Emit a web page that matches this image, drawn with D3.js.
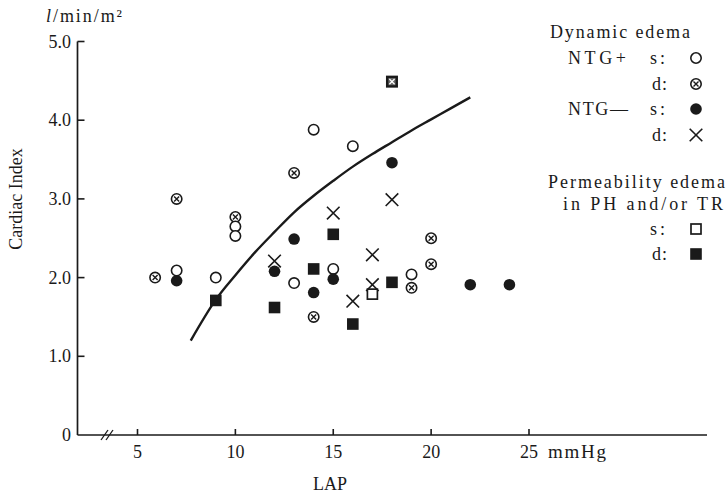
<!DOCTYPE html>
<html><head><meta charset="utf-8">
<script src="https://cdn.jsdelivr.net/npm/d3@7"></script>
<style>html,body{margin:0;padding:0;background:#fff;}svg{display:block;font-family:"Liberation Serif","DejaVu Serif",serif;}</style>
</head><body>
<svg id="c" width="727" height="497"></svg>
<script>
// Data (LAP mmHg, Cardiac Index l/min/m2)
const ntgPlusS = [[7,2.09],[9,2.0],[10,2.65],[10,2.53],[14,3.88],[16,3.67],[13,1.93],[15,2.11],[19,2.04]];
const ntgPlusD = [[5.9,2.0],[7,3.0],[10,2.77],[13,3.33],[20,2.5],[20,2.17],[19,1.87],[14,1.5]];
const ntgMinusS = [[7,1.96],[12,2.08],[13,2.49],[18,3.46],[15,1.98],[14,1.81],[22,1.91],[24,1.91]];
const ntgMinusD = [[12,2.21],[15,2.82],[18,2.99],[17,2.29],[17,1.91],[16,1.7]];
const permS = [[17,1.79]];
const permD = [[9,1.71],[12,1.62],[15,2.55],[14,2.11],[18,1.94],[16,1.41]];
const overlapPts = [[18,4.49]];
const curvePts = [[7.72,1.2],[9,1.72],[10,2.03],[11,2.32],[12,2.58],[13,2.83],[14,3.04],[15,3.23],[16,3.41],[17,3.57],[18,3.72],[19,3.87],[20,4.01],[21,4.15],[22,4.29]];
const xTicks = [5,10,15,20,25];
const xTickLabels = ["5","10","15","20","25"];
const xUnit = "mmHg";
const yTicks = [0,1,2,3,4,5];
const yTickLabels = ["0","1.0","2.0","3.0","4.0","5.0"];

const svg = d3.select("#c");
const x = d3.scaleLinear().domain([5,25]).range([137.5,529]);
const y = d3.scaleLinear().domain([0,5]).range([435,41.5]);
const x0 = 77.5, xEnd = 707;
const ink = "#1a1a1a";
const FS = 18;

// axes lines
svg.append("line").attr("x1",x0).attr("x2",x0).attr("y1",y(5)).attr("y2",y(0)).attr("stroke",ink).attr("stroke-width",1.7);
svg.append("line").attr("x1",x0).attr("x2",xEnd).attr("y1",y(0)).attr("y2",y(0)).attr("stroke",ink).attr("stroke-width",1.7);
// break mark
[0,5].forEach(d=>{
  svg.append("line").attr("x1",101+d).attr("y1",y(0)+5).attr("x2",108+d).attr("y2",y(0)-5).attr("stroke",ink).attr("stroke-width",1.3);
});
// y ticks
const gy = svg.append("g");
yTicks.forEach((t,i)=>{
  if(t>0) gy.append("line").attr("x1",x0).attr("x2",x0+7).attr("y1",y(t)).attr("y2",y(t)).attr("stroke",ink).attr("stroke-width",1.6);
  gy.append("text").attr("x",71).attr("y",y(t)+6).attr("text-anchor","end").attr("font-size",FS).attr("fill",ink).text(yTickLabels[i]);
});
// x ticks
xTicks.forEach((t,i)=>{
  svg.append("line").attr("x1",x(t)).attr("x2",x(t)).attr("y1",y(0)).attr("y2",y(0)-6).attr("stroke",ink).attr("stroke-width",1.6);
  svg.append("text").attr("x",x(t)).attr("y",458).attr("text-anchor","middle").attr("font-size",FS).attr("fill",ink).text(xTickLabels[i]);
});
svg.append("text").attr("x",548).attr("y",458).attr("font-size",19).attr("fill",ink).attr("textLength",58).attr("lengthAdjust","spacing").text(xUnit);
// axis titles
svg.append("text").attr("x",330).attr("y",490).attr("text-anchor","middle").attr("font-size",FS).attr("fill",ink).text("LAP");
svg.append("text").attr("transform","translate(22,199) rotate(-90)").attr("text-anchor","middle").attr("font-size",FS).attr("fill",ink).text("Cardiac Index");
const ut = svg.append("text").attr("x",46).attr("y",22).attr("font-size",FS).attr("fill",ink).attr("textLength",76).attr("lengthAdjust","spacing");
ut.append("tspan").attr("font-style","italic").text("l");
ut.append("tspan").text("/min/m²");

// curve
svg.append("path").datum(curvePts).attr("fill","none").attr("stroke",ink).attr("stroke-width",2.4)
  .attr("d", d3.line().x(d=>x(d[0])).y(d=>y(d[1])).curve(d3.curveCatmullRom));

// marker drawers
function openCircle(g,cx,cy){ g.append("circle").attr("cx",cx).attr("cy",cy).attr("r",5.2).attr("fill","#fff").attr("stroke",ink).attr("stroke-width",1.6); }
function crossCircle(g,cx,cy){ openCircle(g,cx,cy); const s=2.5;
  g.append("path").attr("d",`M${cx-s},${cy-s}L${cx+s},${cy+s}M${cx-s},${cy+s}L${cx+s},${cy-s}`).attr("stroke",ink).attr("stroke-width",1.4); }
function fillCircle(g,cx,cy){ g.append("circle").attr("cx",cx).attr("cy",cy).attr("r",5.8).attr("fill",ink); }
function cross(g,cx,cy){ const s=6.3;
  g.append("path").attr("d",`M${cx-s},${cy-s}L${cx+s},${cy+s}M${cx-s},${cy+s}L${cx+s},${cy-s}`).attr("stroke",ink).attr("stroke-width",1.6).attr("fill","none"); }
function openSquare(g,cx,cy){ g.append("rect").attr("x",cx-5).attr("y",cy-5).attr("width",10).attr("height",10).attr("fill","#fff").attr("stroke",ink).attr("stroke-width",1.7); }
function fillSquare(g,cx,cy){ g.append("rect").attr("x",cx-5.8).attr("y",cy-5.8).attr("width",11.6).attr("height",11.6).attr("fill",ink); }
function squareCross(g,cx,cy){ g.append("rect").attr("x",cx-4.8).attr("y",cy-4.8).attr("width",9.6).attr("height",9.6).attr("fill","#666").attr("stroke",ink).attr("stroke-width",2.4);
  const s=2.6; g.append("path").attr("d",`M${cx-s},${cy-s}L${cx+s},${cy+s}M${cx-s},${cy+s}L${cx+s},${cy-s}`).attr("stroke","#fff").attr("stroke-width",1.2); }

const gm = svg.append("g");
const plot = (arr,fn)=>arr.forEach(d=>fn(gm,x(d[0]),y(d[1])));
plot(ntgPlusD, crossCircle);
plot(ntgPlusS, openCircle);
plot(ntgMinusS, fillCircle);
plot(ntgMinusD, cross);
plot(permS, openSquare);
plot(permD, fillSquare);
plot(overlapPts, squareCross);

// legend
const lg = svg.append("g").attr("font-size",FS).attr("fill",ink);
const lt = (tx,ty,txt,len)=>{ const t=lg.append("text").attr("x",tx).attr("y",ty).text(txt); if(len) t.attr("textLength",len).attr("lengthAdjust","spacing"); };
lt(550,38,"Dynamic edema",140);
lt(568,64,"NTG+",58);
lt(650,64,"s :",15); openCircle(lg,696,58);
lt(652,90,"d :",15); crossCircle(lg,696,84);
lt(568,115,"NTG\u2014",60);
lt(650,115,"s :",15); fillCircle(lg,696,109);
lt(652,141,"d :",15); cross(lg,696,135);
lt(548,188,"Permeability edema",177);
lt(563,210,"in PH and/or TR",160);
lt(650,235,"s :",15); openSquare(lg,696,229);
lt(652,260,"d :",15); fillSquare(lg,696,254);
</script>
</body></html>
